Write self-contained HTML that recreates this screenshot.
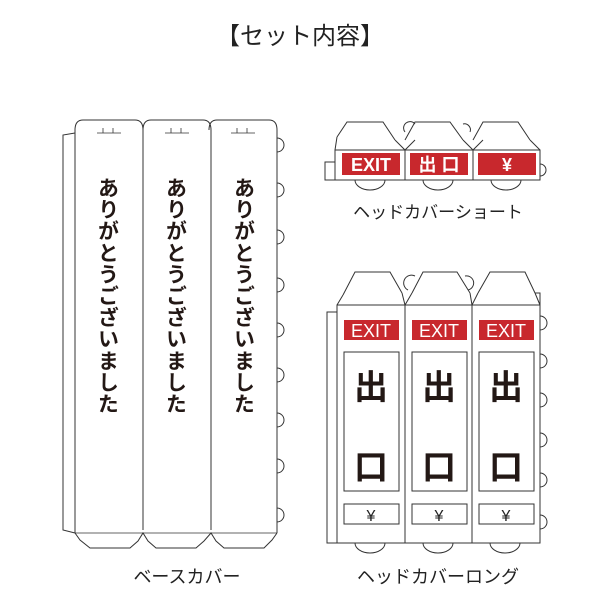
<!DOCTYPE html>
<html><head><meta charset="utf-8"><style>
html,body{margin:0;padding:0;background:#fff}
svg{display:block}
text{font-family:"Liberation Sans","Noto Sans CJK JP",sans-serif}
</style></head><body>
<svg width="600" height="600" viewBox="0 0 600 600" xmlns="http://www.w3.org/2000/svg">
<defs>
<g id="bp">
<path d="M0,130 Q0,120 8,120 L60,120 Q68,120 68,130 L68,530" fill="none" stroke="#333" stroke-width="1"/>
<path d="M22,133 L46,133 M28,128 L28,133 M38,128 L38,133" stroke="#333" stroke-width="0.8"/>
</g>
<g id="bump"><path d="M0,-7 A7,7 0 0 1 0,7" fill="none" stroke="#333" stroke-width="1"/></g>
</defs>
<text x="300" y="44" font-size="24" text-anchor="middle" fill="#222">【セット内容】</text>

<!-- base cover -->
<g fill="none" stroke="#333" stroke-width="1">
<path d="M75,133 L63,135 L63,530 L75,533"/>
<path d="M75,130 L75,533 L80,540 L90,548 L130,548 L138,541 L143,533 L148,541 L156,548 L196,548 L204,541 L211,533 L216,541 L224,548 L264,548 L272,540 L277,533"/>
<path d="M75,533 L277,533" stroke-width="0.8"/>
<path d="M277,130 L277,533"/>
</g>
<use href="#bp" x="75"/><use href="#bp" x="143"/><use href="#bp" x="209"/>
<g>
<use href="#bump" x="277" y="145"/><use href="#bump" x="277" y="190"/><use href="#bump" x="277" y="237"/><use href="#bump" x="277" y="285"/><use href="#bump" x="277" y="330"/><use href="#bump" x="277" y="375"/><use href="#bump" x="277" y="420"/><use href="#bump" x="277" y="466"/><use href="#bump" x="277" y="515"/>
</g>
<g font-size="21" font-weight="bold" fill="#231815" style="writing-mode:vertical-rl" letter-spacing="0.6">
<text x="107" y="177">ありがとうございました</text>
<text x="175" y="177">ありがとうございました</text>
<text x="243" y="177">ありがとうございました</text>
</g>
<text x="187" y="583" font-size="18" text-anchor="middle" fill="#222">ベースカバー</text>

<!-- short head cover -->
<g fill="none" stroke="#333" stroke-width="1">
<path d="M337,137 L347,122 L383,122 L395,140 M405,140 L415,122 L450,122 L463,140 M473,140 L483,122 L518,122 L530,140"/>
<path d="M335,150 L335,180 L540,180 L540,150 Z"/>
<path d="M335,162 L325,162 L325,180 L335,180"/>
<path d="M405,150 L405,180 M473,150 L473,180"/>
<path d="M337,137 L335,150 M395,140 L405,150 L415,140 M463,140 L473,150 L483,140 M530,140 L540,150"/>
<path d="M405,132 A6,6 0 0 1 415,124 M463,124 A6,6 0 0 1 470,132"/>
<path d="M540,164 A6,6 0 0 1 540,176"/>
<path d="M355,180 A15,10 0 0 0 385,180 M423,180 A15,10 0 0 0 453,180 M491,180 A15,10 0 0 0 521,180"/>
</g>
<rect x="342" y="153" width="58" height="22" fill="#c8282d"/>
<rect x="410" y="153" width="58" height="22" fill="#c8282d"/>
<rect x="478" y="153" width="58" height="22" fill="#c8282d"/>
<g fill="#fff" font-size="18" font-weight="bold" text-anchor="middle">
<text x="371" y="171">EXIT</text><text x="439" y="171">出 口</text><text x="507" y="171">¥</text>
</g>
<text x="438" y="218" font-size="17" text-anchor="middle" fill="#222">ヘッドカバーショート</text>

<!-- long head cover -->
<g fill="none" stroke="#333" stroke-width="1">
<path d="M343,295 L355,272 L390,272 L402,293 M412,293 L423,272 L457,272 L470,293 M478,293 L490,272 L525,272 L535,293"/>
<path d="M337,305 L337,543 L540,543 L540,305 Z"/>
<path d="M337,312 L327,312 L327,543 L337,543"/>
<path d="M405,305 L405,543 M472,305 L472,543"/>
<path d="M343,295 L337,305 M402,293 L405,305 L412,293 M470,293 L472,305 L478,293 M535,293 L540,305"/>
<path d="M408,290 A7,7 0 0 1 415,276 M465,276 A7,7 0 0 1 468,290 M535,293 L540,293 L540,305"/>
<path d="M355,543 A15,10 0 0 0 385,543 M423,543 A15,10 0 0 0 453,543 M490,543 A15,10 0 0 0 520,543"/>
<rect x="344" y="352" width="55" height="139"/><rect x="412" y="352" width="55" height="139"/><rect x="479" y="352" width="55" height="139"/>
<rect x="344" y="504" width="55" height="20"/><rect x="412" y="504" width="55" height="20"/><rect x="479" y="504" width="55" height="20"/>
</g>
<g>
<use href="#bump" x="540" y="323"/><use href="#bump" x="540" y="361"/><use href="#bump" x="540" y="400"/><use href="#bump" x="540" y="440"/><use href="#bump" x="540" y="480"/><use href="#bump" x="540" y="522"/>
</g>
<rect x="344" y="320" width="55" height="20" fill="#c8282d"/>
<rect x="412" y="320" width="55" height="20" fill="#c8282d"/>
<rect x="479" y="320" width="55" height="20" fill="#c8282d"/>
<g fill="#fff" font-size="18" text-anchor="middle">
<text x="371" y="337">EXIT</text><text x="439" y="337">EXIT</text><text x="506" y="337">EXIT</text>
</g>
<g fill="#231815" font-size="34" font-weight="bold" text-anchor="middle">
<text x="371" y="399">出</text><text x="439" y="399">出</text><text x="506" y="399">出</text>
<text x="371" y="479">口</text><text x="439" y="479">口</text><text x="506" y="479">口</text>
</g>
<g fill="#222" font-size="16" text-anchor="middle">
<text x="371" y="521">¥</text><text x="439" y="521">¥</text><text x="506" y="521">¥</text>
</g>
<text x="438" y="583" font-size="18" text-anchor="middle" fill="#222">ヘッドカバーロング</text>
</svg>
</body></html>
